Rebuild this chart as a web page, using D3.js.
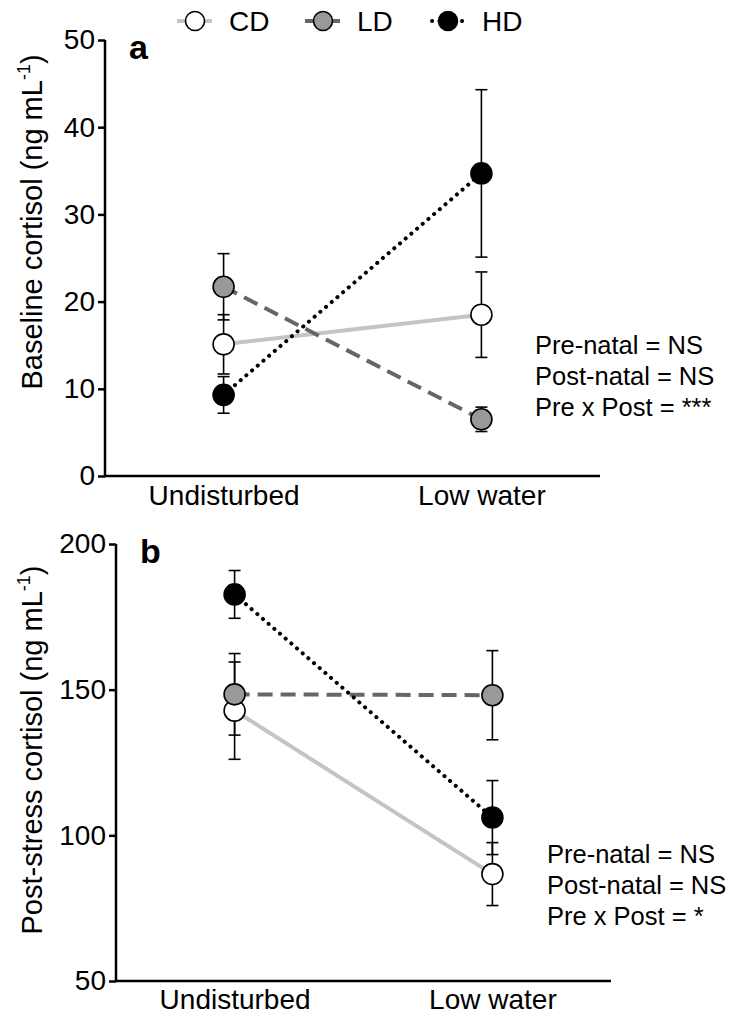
<!DOCTYPE html>
<html>
<head>
<meta charset="utf-8">
<script src="https://cdn.jsdelivr.net/npm/d3@7"></script>
<style>
  body { margin: 0; background: #fff; }
  svg { display: block; font-family: "Liberation Sans", Arial, sans-serif; }
</style>
</head>
<body>
<div id="chart"></div>
<script>
// categories and series
const groups = ['Undisturbed', 'Low water'];
const seriesNames = ['CD', 'LD', 'HD'];

// panel a: baseline cortisol (mean, SE)
const cdBaseline = [15.1, 18.5];
const cdBaselineSE = [3.4, 4.9];
const ldBaseline = [21.7, 6.5];
const ldBaselineSE = [3.8, 1.4];
const hdBaseline = [9.3, 34.7];
const hdBaselineSE = [2.1, 9.6];

// panel b: post-stress cortisol (mean, SE)
const cdStress = [142.8, 86.7];
const cdStressSE = [16.7, 10.8];
const ldStress = [148.4, 148.1];
const ldStressSE = [14.0, 15.3];
const hdStress = [182.7, 106.1];
const hdStressSE = [8.2, 12.7];

const baselineTicks = [0, 10, 20, 30, 40, 50];
const stressTicks = [50, 100, 150, 200];

const statsA = ['Pre-natal = NS', 'Post-natal = NS', 'Pre x Post = ***'];
const statsB = ['Pre-natal = NS', 'Post-natal = NS', 'Pre x Post = *'];

// line / marker styles per series
const styles = {
  CD: { line: '#c4c4c4', dash: null, fill: '#fff', cap: 'butt' },
  LD: { line: '#666666', dash: '15,8', fill: '#999999', cap: 'butt' },
  HD: { line: '#000000', dash: '0.1,7.4', fill: '#000000', cap: 'round' }
};

const width = 731, height = 1014;
const svg = d3.select('#chart').append('svg')
  .attr('width', width)
  .attr('height', height);

function drawPanel(cfg) {
  const g = svg.append('g');

  const x = d3.scalePoint()
    .domain(groups)
    .range([cfg.left, cfg.right])
    .padding(0.46);

  const y = d3.scaleLinear()
    .domain(cfg.domain)
    .range([cfg.bottom, cfg.top]);

  // y axis
  const yAxis = g.append('g')
    .attr('transform', `translate(${cfg.left},0)`)
    .call(d3.axisLeft(y).tickValues(cfg.ticks).tickSize(7).tickSizeOuter(0).tickPadding(3));
  yAxis.select('.domain').attr('stroke-width', 2.5).attr('d', `M0,${cfg.top}V${cfg.bottom}`);
  yAxis.selectAll('.tick line').attr('stroke-width', 2.5);
  yAxis.selectAll('.tick text')
    .attr('font-size', 28)
    .attr('fill', '#000')
    .attr('font-family', '"Liberation Sans", Arial, sans-serif');

  // x axis (no ticks)
  const xAxis = g.append('g')
    .attr('transform', `translate(0,${cfg.bottom})`)
    .call(d3.axisBottom(x).tickSize(0).tickPadding(cfg.xPad));
  xAxis.select('.domain').attr('stroke-width', 2.5).attr('d', `M${cfg.left - 1},0H${cfg.right}`);
  xAxis.selectAll('.tick text')
    .attr('font-size', 28)
    .attr('fill', '#000')
    .attr('font-family', '"Liberation Sans", Arial, sans-serif');

  // axis title
  const title = g.append('text')
    .attr('transform', `translate(42,${cfg.titleY}) rotate(-90)`)
    .attr('text-anchor', 'middle')
    .attr('font-size', 29);
  title.append('tspan').text(cfg.title + ' (ng mL');
  title.append('tspan').attr('font-size', 18).attr('dy', -12).text('-1');
  title.append('tspan').attr('dy', 12).text(')');

  // panel letter
  g.append('text')
    .attr('x', cfg.left + 24)
    .attr('y', cfg.top + 19)
    .attr('font-size', 34)
    .attr('font-weight', 'bold')
    .text(cfg.letter);

  const line = d3.line()
    .x((d, i) => x(groups[i]))
    .y(d => y(d));

  // connecting lines
  cfg.series.forEach(s => {
    const st = styles[s.name];
    g.append('path')
      .datum(s.mean)
      .attr('d', line)
      .attr('fill', 'none')
      .attr('stroke', st.line)
      .attr('stroke-width', 4)
      .attr('stroke-linecap', st.cap)
      .attr('stroke-dasharray', st.dash);
  });

  // error bars
  cfg.series.forEach(s => {
    const eb = g.append('g');
    s.mean.forEach((m, i) => {
      const cx = x(groups[i]);
      const lo = y(m - s.se[i]), hi = y(m + s.se[i]);
      eb.append('line').attr('x1', cx).attr('x2', cx).attr('y1', lo).attr('y2', hi)
        .attr('stroke', '#000').attr('stroke-width', 1.6);
      [lo, hi].forEach(yy => {
        eb.append('line').attr('x1', cx - 6).attr('x2', cx + 6).attr('y1', yy).attr('y2', yy)
          .attr('stroke', '#000').attr('stroke-width', 1.6);
      });
    });
  });

  // points
  cfg.series.forEach(s => {
    const st = styles[s.name];
    g.selectAll(null)
      .data(s.mean)
      .enter()
      .append('circle')
      .attr('cx', (d, i) => x(groups[i]))
      .attr('cy', d => y(d))
      .attr('r', 10.5)
      .attr('fill', st.fill)
      .attr('stroke', '#000')
      .attr('stroke-width', 1.6);
  });

  // statistics text
  g.append('g')
    .selectAll('text')
    .data(cfg.stats)
    .enter()
    .append('text')
    .attr('x', cfg.statsX)
    .attr('y', (d, i) => cfg.statsY + i * 31)
    .attr('font-size', 25.5)
    .text(d => d);
}

drawPanel({
  letter: 'a',
  title: 'Baseline cortisol',
  titleY: 222,
  left: 105, right: 600, top: 40, bottom: 476,
  domain: [0, 50],
  ticks: baselineTicks,
  xPad: 9,
  series: [
    { name: 'CD', mean: cdBaseline, se: cdBaselineSE },
    { name: 'LD', mean: ldBaseline, se: ldBaselineSE },
    { name: 'HD', mean: hdBaseline, se: hdBaselineSE }
  ],
  stats: statsA,
  statsX: 535, statsY: 354
});

drawPanel({
  letter: 'b',
  title: 'Post-stress cortisol',
  titleY: 750,
  left: 116, right: 611, top: 544, bottom: 981,
  domain: [50, 200],
  ticks: stressTicks,
  xPad: 8,
  series: [
    { name: 'CD', mean: cdStress, se: cdStressSE },
    { name: 'LD', mean: ldStress, se: ldStressSE },
    { name: 'HD', mean: hdStress, se: hdStressSE }
  ],
  stats: statsB,
  statsX: 547, statsY: 863
});

// legend
const legend = svg.append('g');
const legendX = [177, 305, 430];
seriesNames.forEach((name, i) => {
  const st = styles[name];
  const lx = legendX[i];
  legend.append('line')
    .attr('x1', lx + (name === 'HD' ? 2 : 0)).attr('x2', lx + 35)
    .attr('y1', 21).attr('y2', 21)
    .attr('stroke', st.line)
    .attr('stroke-width', 4)
    .attr('stroke-linecap', st.cap)
    .attr('stroke-dasharray', name === 'HD' ? st.dash : null);
  legend.append('circle')
    .attr('cx', lx + 18).attr('cy', 21)
    .attr('r', 9.5)
    .attr('fill', st.fill)
    .attr('stroke', '#000')
    .attr('stroke-width', 1.6);
  legend.append('text')
    .attr('x', lx + 52)
    .attr('y', 31)
    .attr('font-size', 28)
    .text(name);
});
</script>
</body>
</html>
